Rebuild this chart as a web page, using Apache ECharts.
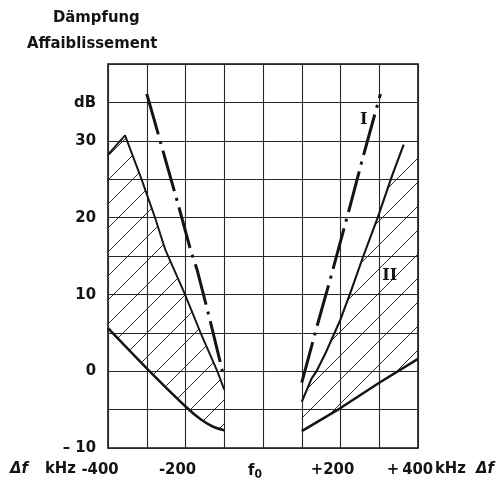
<!DOCTYPE html>
<html>
<head>
<meta charset="utf-8">
<script src="https://cdn.jsdelivr.net/npm/echarts@6/dist/echarts.min.js"></script>
<style>
html,body{margin:0;padding:0;background:#fff;}
#main{width:504px;height:482px;}
</style>
</head>
<body>
<div id="main"></div>
<script>
// ---- data ----
const xTickValues = [-400, -200, 0, 200, 400];
const xTickLabels = ['-400', '-200', '{f|f}{s|0}', '+200', '+\u2009400'];
const yTickValues = [-10, 0, 10, 20, 30, 35];
const yTickLabels = ['– 10', '0', '10', '20', '30', 'dB'];

const curveILeft  = [[-300, 36.1], [-280, 32.6], [-260, 29.0], [-220, 21.9], [-187, 15.8], [-170, 13.2], [-135, 6.3], [-100, -1.0]];
const curveIRight = [[100, -1.5], [138, 5.6], [177, 12.6], [229, 22.3], [255, 27.3], [303, 36.1]];

const curveIILeft  = [[-400, 28.2], [-356, 30.7], [-315, 25.2], [-280, 20.2], [-252, 15.8], [-203, 10.2], [-161, 5.0], [-118, 0.0], [-100, -2.4]];
const curveIIRight = [[100, -4.0], [125, -1.0], [138, 0.0], [160, 2.2], [198, 6.5], [224, 10.0], [259, 15.0], [296, 20.0], [332, 25.3], [363, 29.5]];

const lowerLeft  = [[-400, 5.6], [-293, 0.0], [-200, -4.6], [-160, -6.3], [-130, -7.2], [-100, -7.7]];
const lowerRight = [[100, -7.8], [200, -4.8], [300, -1.5], [400, 1.6]];

const hatchRightCorner = [400, 28.2];

// hatched regions built from the curves
const hatchLeft = curveIILeft.concat(lowerLeft.slice().reverse());
const hatchRight = curveIIRight.slice(0, -1).concat([hatchRightCorner]).concat(lowerRight.slice().reverse());
const hatchRegions = [hatchLeft, hatchRight];

// ---- hatch pattern ----
const tile = document.createElement('canvas');
tile.width = 24; tile.height = 24;
(function () {
  const c = tile.getContext('2d');
  c.strokeStyle = '#2a2a2a';
  c.lineWidth = 1;
  for (const k of [0, 24, 48]) {
    c.beginPath();
    c.moveTo(-2, k + 2);
    c.lineTo(k + 2, -2);
    c.stroke();
  }
})();

const FONT = "'DejaVu Sans Condensed', 'Liberation Sans Narrow', sans-serif";
const FS = 16.5;
const INK = '#141414';

const chart = echarts.init(document.getElementById('main'), null, {renderer: 'canvas'});

function fmt(vals, labels) {
  return function (v) {
    const i = vals.indexOf(Math.round(v));
    return i >= 0 ? labels[i] : '';
  };
}

const lineBase = {type: 'line', symbol: 'none', clip: true, silent: true};
const txt = (t, x, y, italic) => ({
  type: 'text', left: x, top: y,
  style: {text: t, font: (italic ? 'italic ' : '') + 'bold ' + FS + 'px ' + FONT, fill: INK}
});

chart.setOption({
  animation: false,
  backgroundColor: '#fff',
  grid: {left: 108, right: 86, top: 64, bottom: 34, show: true, borderColor: INK, borderWidth: 1.6, backgroundColor: 'transparent'},
  xAxis: {
    type: 'value', min: -400, max: 400, interval: 100,
    axisLine: {show: false}, axisTick: {show: false},
    splitLine: {show: true, lineStyle: {color: '#262626', width: 1.1}},
    axisLabel: {
      formatter: fmt(xTickValues, xTickLabels),
      color: INK, fontFamily: FONT, fontWeight: 'bold', fontSize: FS,
      margin: 13, padding: [0, 16, 0, 0],
      rich: {
        f: {fontFamily: FONT, fontWeight: 'bold', fontSize: FS, color: INK},
        s: {fontFamily: FONT, fontWeight: 'bold', fontSize: 12, color: INK, verticalAlign: 'bottom', padding: [8, 0, 0, 0]}
      }
    }
  },
  yAxis: {
    type: 'value', min: -10, max: 40, interval: 5,
    axisLine: {show: false}, axisTick: {show: false},
    splitLine: {show: true, lineStyle: {color: '#262626', width: 1.1}},
    axisLabel: {
      formatter: fmt(yTickValues, yTickLabels),
      color: INK, fontFamily: FONT, fontWeight: 'bold', fontSize: FS, margin: 12
    }
  },
  graphic: [
    txt('Dämpfung', 53, 9),
    txt('Affaiblissement', 27, 35),
    txt('Δf', 10, 460, true),
    txt('kHz', 45, 460),
    txt('kHz', 435, 460),
    txt('Δf', 476, 460, true)
  ],
  series: [
    {
      type: 'custom', silent: true, clip: true, z: 1,
      data: hatchRegions.map((r, i) => i),
      renderItem: function (params, api) {
        const region = hatchRegions[params.dataIndex];
        return {
          type: 'polygon',
          shape: {points: region.map(p => api.coord(p))},
          style: {fill: {image: tile, repeat: 'repeat'}, stroke: null}
        };
      }
    },
    Object.assign({}, lineBase, {name: 'IIL', data: curveIILeft, lineStyle: {color: INK, width: 1.9}, z: 3}),
    Object.assign({}, lineBase, {name: 'IIR', data: curveIIRight, lineStyle: {color: INK, width: 2.1}, z: 3}),
    Object.assign({}, lineBase, {name: 'lowL', data: lowerLeft, smooth: 0.25, lineStyle: {color: INK, width: 2.5}, z: 3}),
    Object.assign({}, lineBase, {name: 'lowR', data: lowerRight, lineStyle: {color: INK, width: 2.5}, z: 3}),
    Object.assign({}, lineBase, {name: 'IL', data: curveILeft, lineStyle: {color: INK, width: 3, type: [42, 7, 3, 7], cap: 'butt'}, z: 4}),
    Object.assign({}, lineBase, {name: 'IR', data: curveIRight, lineStyle: {color: INK, width: 3, type: [42, 7, 3, 7], cap: 'butt'}, z: 4,
      markPoint: {
        symbol: 'circle', symbolSize: 0, silent: true,
        label: {show: true, color: INK, fontFamily: "'DejaVu Serif', 'Liberation Serif', serif", fontWeight: 'bold', fontSize: 16},
        data: [
          {coord: [260, 32.7], label: {formatter: 'I'}},
          {coord: [327, 12.4], label: {formatter: 'II'}}
        ]
      }
    })
  ]
});
</script>
</body>
</html>
